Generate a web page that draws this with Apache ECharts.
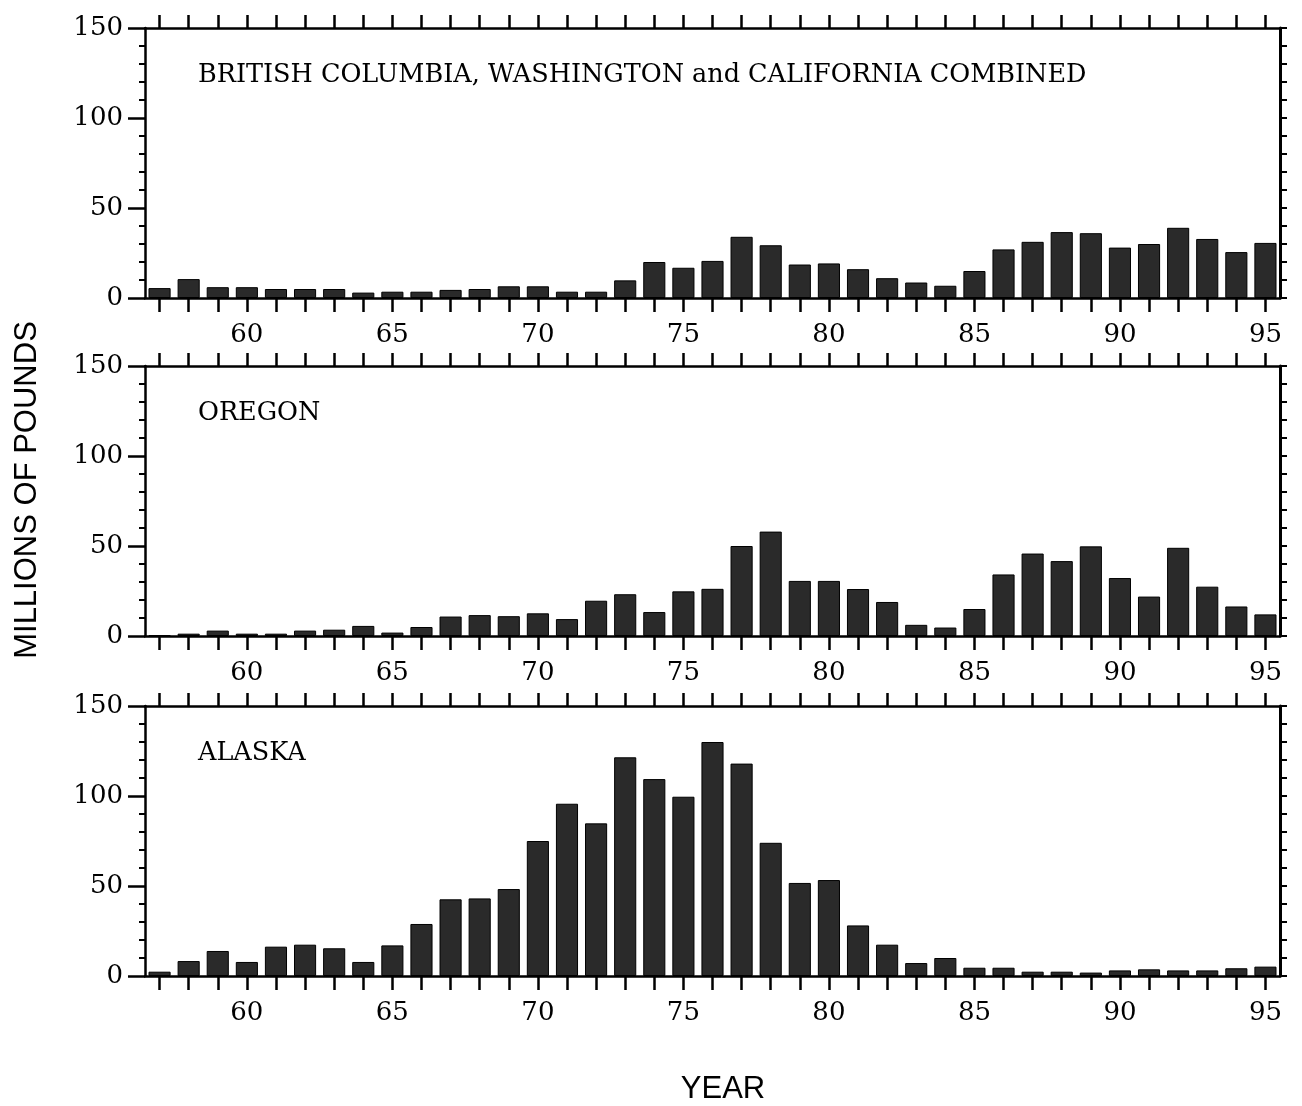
<!DOCTYPE html>
<html lang="en">
<head>
<meta charset="UTF-8">
<title>Landings by region</title>
<script src="https://cdn.jsdelivr.net/npm/echarts@6/dist/echarts.min.js"></script>
<style>
    html, body, #chart {
        width: 100%;
        height: 100%;
        margin: 0;
        background: #fff;
    }
</style>
</head>
<body>
<div id="chart"></div>
<script>
// years 1957 - 1995, labelled with two digits
var years = ['57', '58', '59', '60', '61', '62', '63', '64', '65', '66',
             '67', '68', '69', '70', '71', '72', '73', '74', '75', '76',
             '77', '78', '79', '80', '81', '82', '83', '84', '85', '86',
             '87', '88', '89', '90', '91', '92', '93', '94', '95'];

// millions of pounds
var bcWaCa = [5.5, 10.5, 6, 6, 5, 5, 5, 3, 3.5, 3.5,
              4.5, 5, 6.5, 6.5, 3.5, 3.5, 9.8, 20, 16.8, 20.6,
              34, 29.3, 18.6, 19.2, 16, 11, 8.6, 6.8, 15, 27,
              31.2, 36.6, 36, 28, 30, 39, 32.8, 25.5, 30.6];
var oregon = [0.4, 1.3, 3, 1.3, 1.3, 3, 3.5, 5.6, 1.9, 5,
              10.8, 11.6, 11, 12.6, 9.4, 19.6, 23.2, 13.3, 24.8, 26.2,
              50, 58, 30.6, 30.6, 26.1, 18.9, 6.2, 4.7, 15, 34.2,
              45.8, 41.6, 49.8, 32.2, 21.9, 49, 27.4, 16.4, 12];
var alaska = [2.4, 8.3, 13.9, 7.8, 16.3, 17.4, 15.4, 7.8, 17, 28.9,
              42.6, 43.1, 48.3, 75, 95.7, 84.8, 121.5, 109.4, 99.6, 130,
              118, 74, 51.7, 53.3, 28.1, 17.4, 7.2, 10, 4.6, 4.6,
              2.4, 2.4, 1.9, 3.1, 3.7, 3.1, 3.1, 4.3, 5.2];

var panelNames = ['BRITISH COLUMBIA, WASHINGTON and CALIFORNIA COMBINED', 'OREGON', 'ALASKA'];
var panelData = [bcWaCa, oregon, alaska];
var panelTops = [28, 366, 706];

var chart = echarts.init(document.getElementById('chart'));

var serif = 'DejaVu Serif';
var sans = 'Liberation Sans';
var ink = '#000';

var grids = [], xAxes = [], yAxes = [], series = [], texts = [];

panelData.forEach(function (values, i) {
    grids.push({ left: 145, right: 22, top: panelTops[i], height: 270 });

    // bottom axis, labelled every 5 years
    xAxes.push({
        type: 'category', gridIndex: i, data: years, position: 'bottom',
        axisLine: { onZero: false, lineStyle: { color: ink, width: 2.5 } },
        axisTick: { show: true, alignWithLabel: true, interval: 0, length: 14, lineStyle: { color: ink, width: 2.5 } },
        axisLabel: {
            interval: function (idx, val) { return Number(val) % 5 === 0; },
            color: ink, fontFamily: serif, fontSize: 26, margin: 24
        }
    });
    // top frame with ticks
    xAxes.push({
        type: 'category', gridIndex: i, data: years, position: 'top',
        axisLine: { onZero: false, lineStyle: { color: ink, width: 2.5 } },
        axisTick: { show: true, alignWithLabel: true, interval: 0, length: 13, lineStyle: { color: ink, width: 2.5 } },
        axisLabel: { show: false }
    });

    yAxes.push({
        type: 'value', gridIndex: i, min: 0, max: 150, interval: 50, position: 'left',
        axisLine: { show: true, lineStyle: { color: ink, width: 2.5 } },
        axisTick: { show: true, length: 17, lineStyle: { color: ink, width: 2.5 } },
        minorTick: { show: true, splitNumber: 5, length: 6, lineStyle: { color: ink, width: 2 } },
        splitLine: { show: false },
        axisLabel: { color: ink, fontFamily: serif, fontSize: 26, margin: 22 }
    });
    yAxes.push({
        type: 'value', gridIndex: i, min: 0, max: 150, interval: 10, position: 'right',
        axisLine: { show: true, lineStyle: { color: ink, width: 3 } },
        axisTick: { show: true, length: 7, lineStyle: { color: ink, width: 2 } },
        splitLine: { show: false },
        axisLabel: { show: false }
    });

    series.push({
        type: 'bar', xAxisIndex: i * 2, yAxisIndex: i * 2, data: values,
        barCategoryGap: '24%',
        itemStyle: { color: '#2a2a2a', borderColor: '#000', borderWidth: 1 },
        silent: true
    });

    texts.push({
        type: 'text', left: 198, top: panelTops[i] + 34,
        style: { text: panelNames[i], font: '25.5px "' + serif + '"', fill: ink }
    });
});

texts.push({
    type: 'text', x: 27, y: 490, rotation: Math.PI / 2,
    style: { text: 'MILLIONS OF POUNDS', font: '31px "' + sans + '"', fill: ink, align: 'center', verticalAlign: 'middle' }
});
texts.push({
    type: 'text', x: 723, y: 1089,
    style: { text: 'YEAR', font: '31px "' + sans + '"', fill: ink, align: 'center', verticalAlign: 'middle' }
});

chart.setOption({
    animation: false,
    backgroundColor: '#fff',
    grid: grids,
    xAxis: xAxes,
    yAxis: yAxes,
    series: series,
    graphic: texts
});

window.onresize = chart.resize;
</script>
</body>
</html>
